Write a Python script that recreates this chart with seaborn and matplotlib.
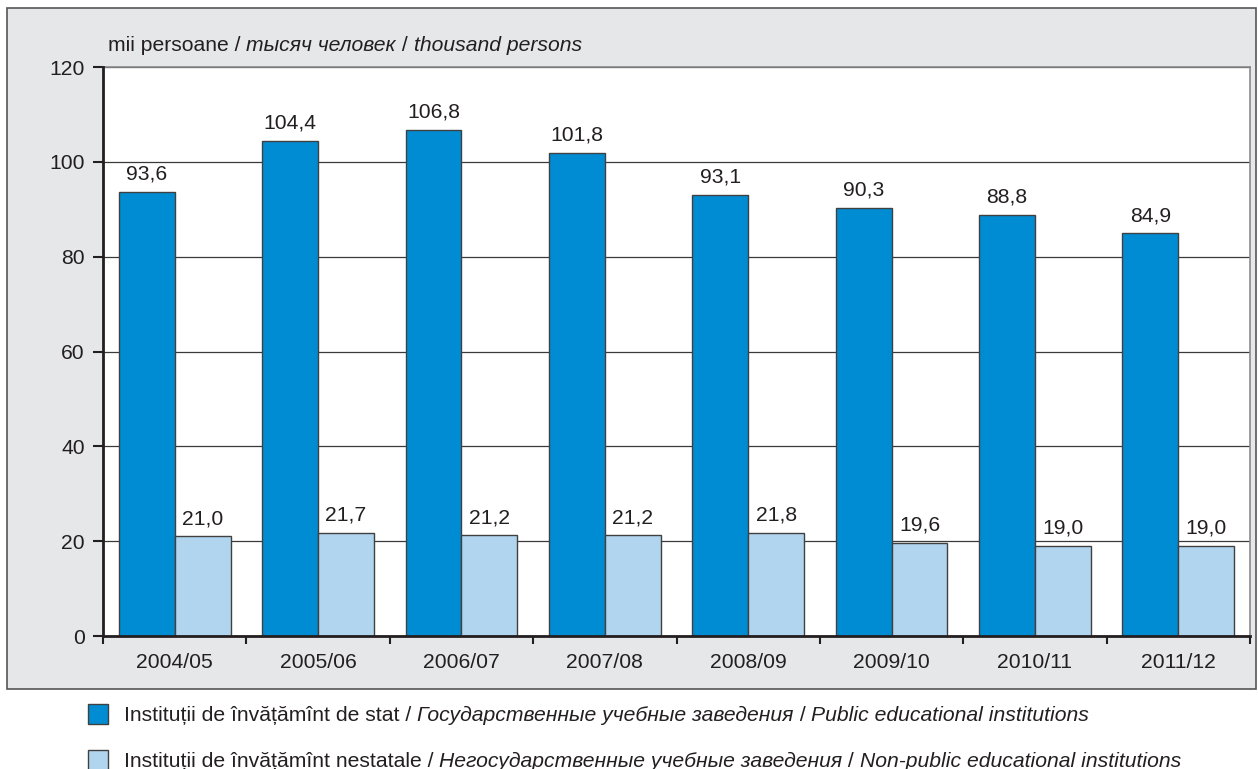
import matplotlib
matplotlib.use("Agg")
import matplotlib.pyplot as plt
import matplotlib.patches as mpatches
import seaborn as sns
import pandas as pd

# Data
years = ["2004/05", "2005/06", "2006/07", "2007/08", "2008/09", "2009/10", "2010/11", "2011/12"]
public = [93.6, 104.4, 106.8, 101.8, 93.1, 90.3, 88.8, 84.9]
nonpublic = [21.0, 21.7, 21.2, 21.2, 21.8, 19.6, 19.0, 19.0]
y_ticks = [0, 20, 40, 60, 80, 100, 120]

dark_blue = "#008cd3"
light_blue = "#b1d5ee"
panel_gray = "#e6e7e9"
text_color = "#231f20"
FS = 15.2

sns.set_theme(style="white")
plt.rcParams["font.family"] = ["Liberation Sans", "DejaVu Sans"]

df = pd.DataFrame({
    "year": years * 2,
    "value": public + nonpublic,
    "type": ["public"] * len(years) + ["nonpublic"] * len(years),
})

fig = plt.figure(figsize=(12.58, 7.69), dpi=100)
W, H = 1258, 769

# gray panel behind the plot
fig.patches.append(mpatches.Rectangle((7 / W, 1 - 689 / H), 1249 / W, 681 / H,
                                      transform=fig.transFigure, facecolor=panel_gray,
                                      edgecolor="#555555", linewidth=1.2, zorder=-5))

ax = fig.add_axes([103 / W, 1 - 636 / H, (1250 - 103) / W, (636 - 67) / H])
ax.set_zorder(2)
ax.set_facecolor("white")

sns.barplot(data=df, x="year", y="value", hue="type", ax=ax,
            palette=[dark_blue, light_blue], width=0.78, gap=0,
            edgecolor="#404040", linewidth=1.0, saturation=1, legend=False, zorder=3)

for cont in ax.containers:
    labels = [f"{b.get_height():.1f}".replace(".", ",") for b in cont]
    ax.bar_label(cont, labels=labels, padding=6, fontsize=FS, color=text_color)

ax.set_ylim(0, 120)
ax.set_xlim(-0.5, len(years) - 0.5)
ax.set_yticks(y_ticks)
ax.set_yticklabels([str(t) for t in y_ticks], fontsize=FS, color=text_color)
ax.tick_params(axis="y", direction="out", length=7, width=1.5, color=text_color, pad=6, left=True)
ax.set_xticks(range(len(years)))
ax.set_xticklabels(years, fontsize=FS, color=text_color)
ax.tick_params(axis="x", which="major", length=0, pad=12)
ax.set_xticks([i - 0.5 for i in range(len(years) + 1)], minor=True)
ax.tick_params(axis="x", which="minor", direction="out", length=6, width=1.5, color=text_color, bottom=True)
ax.set_xlabel("")
ax.set_ylabel("")

ax.grid(axis="y", color="#3a3a3a", linewidth=0.9, zorder=0)
ax.set_axisbelow(True)
for side in ["left", "bottom"]:
    ax.spines[side].set_color(text_color)
    ax.spines[side].set_linewidth(2)
    ax.spines[side].set_zorder(5)
for side in ["top", "right"]:
    ax.spines[side].set_color("#8a8a8a")
    ax.spines[side].set_linewidth(1.2)

renderer = fig.canvas.get_renderer()


def mixed_text(x, y, parts, size=FS):
    # draw (text, italic) pieces side by side, y is the baseline in pixels
    for txt, italic in parts:
        t = fig.text(x / W, 1 - y / H, txt, fontsize=size, va="baseline", ha="left",
                     style="italic" if italic else "normal", color=text_color)
        bb = t.get_window_extent(renderer=renderer)
        x += bb.width


mixed_text(108, 51, [("mii persoane / ", False), ("тысяч человек", True),
                     (" / ", False), ("thousand persons", True)])

legend_rows = [
    (dark_blue, 714, [("Instituții de învățămînt de stat / ", False),
                      ("Государственные учебные заведения", True),
                      (" / ", False), ("Public educational institutions", True)]),
    (light_blue, 760, [("Instituții de învățămînt nestatale / ", False),
                       ("Негосударственные учебные заведения", True),
                       (" / ", False), ("Non-public educational institutions", True)]),
]
for color, yc, parts in legend_rows:
    fig.patches.append(mpatches.Rectangle((88 / W, 1 - (yc + 10) / H), 20 / W, 20 / H,
                                          transform=fig.transFigure, facecolor=color,
                                          edgecolor="#404040", linewidth=1.0))
    mixed_text(124, yc + 7, parts)

fig.savefig("out.png", dpi=100, facecolor="white")
